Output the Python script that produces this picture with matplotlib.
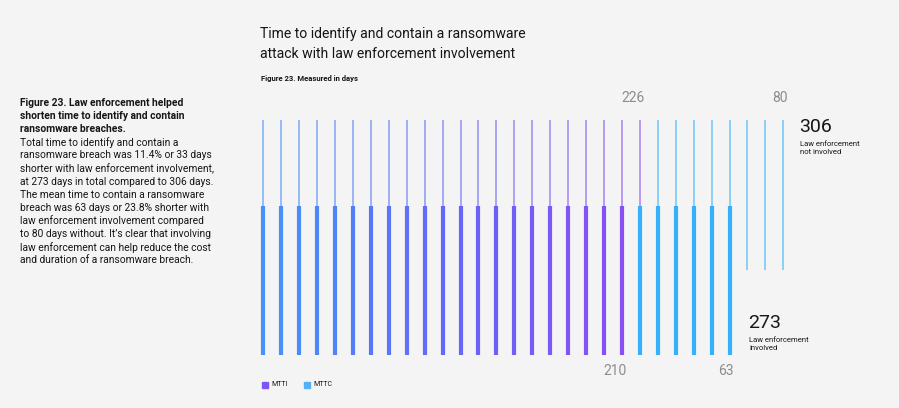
import numpy as np
import matplotlib.pyplot as plt
from matplotlib.colors import LinearSegmentedColormap
from matplotlib.patches import Rectangle

# data (days)
rows = ["Law enforcement\nnot involved", "Law enforcement\ninvolved"]
mtti = [226, 210]
mttc = [80, 63]
totals = [306, 273]
days_per_line = 10

W, H = 899, 408
bg = "#f4f4f4"
mtti_cmap = LinearSegmentedColormap.from_list("mtti", ["#4593f8", "#6468f7", "#8a4ff2"])
mttc_color = "#35b0fa"
grey = "#8d8d8d"
dark = "#161616"

plt.rcParams["font.family"] = ["Roboto", "DejaVu Sans"]

fig = plt.figure(figsize=(W / 100, H / 100), dpi=100, facecolor=bg)


def fx(x):
    return x / W


def fy(y):
    return 1 - y / H


# chart axes: x in line index, y in pixel rows measured upward from y=370
ax = fig.add_axes([fx(254.3), fy(370), fx(538), 270 / H])
ax.set_xlim(-0.5, 29.5)
ax.set_ylim(0, 270)
ax.set_facecolor(bg)
ax.axis("off")

# row geometry (bottom, top, line width in pt, alpha)
row_style = [(100, 250, 1.1, 0.7), (15, 164, 3.0, 1.0)]

for r in range(2):
    bottom, top, lw, alpha = row_style[r]
    n_i = mtti[r] // days_per_line
    n_c = mttc[r] // days_per_line
    xi = np.arange(n_i)
    xc = np.arange(n_i, n_i + n_c)
    cols = [mtti_cmap(i / (n_i - 1)) for i in xi]
    ax.vlines(xi, bottom, top, colors=cols, linewidth=lw, alpha=alpha)
    ax.vlines(xc, bottom, top, colors=mttc_color, linewidth=lw, alpha=alpha)

    ly = 272 if r == 0 else -1
    ax.text(n_i - 1 + 0.25, ly, str(mtti[r]), ha="right", va="center",
            fontsize=10, color=grey, clip_on=False)
    ax.text(n_i + n_c - 1 + 0.25, ly, str(mttc[r]), ha="right", va="center",
            fontsize=10, color=grey, clip_on=False)

# totals
fig.text(fx(799), fy(127), str(totals[0]), fontsize=14, color=dark, va="center")
fig.text(fx(800), fy(141), rows[0], fontsize=5.5, color=dark, va="top", linespacing=1.3)
fig.text(fx(748), fy(323), str(totals[1]), fontsize=14, color=dark, va="center")
fig.text(fx(749), fy(337), rows[1], fontsize=5.5, color=dark, va="top", linespacing=1.3)

# titles
fig.text(fx(260), fy(27), "Time to identify and contain a ransomware\nattack with law enforcement involvement",
         fontsize=10.1, color=dark, va="top", linespacing=1.55)
fig.text(fx(261), fy(78), "Figure 23. Measured in days", fontsize=5.5, fontweight="bold",
         color=dark, va="center")

# legend
fig.patches.append(Rectangle((fx(262), fy(388)), fx(6), 6 / H, transform=fig.transFigure,
                             color=mtti_cmap(0.85)))
fig.text(fx(271), fy(384.5), "MTTI", fontsize=5, color=dark, va="center")
fig.patches.append(Rectangle((fx(304), fy(388)), fx(6), 6 / H, transform=fig.transFigure,
                             color="#56b0f5"))
fig.text(fx(313), fy(384.5), "MTTC", fontsize=5, color=dark, va="center")

# side note
bold_lines = ["Figure 23. Law enforcement helped",
              "shorten time to identify and contain",
              "ransomware breaches."]
body_lines = ["Total time to identify and contain a",
              "ransomware breach was 11.4% or 33 days",
              "shorter with law enforcement involvement,",
              "at 273 days in total compared to 306 days.",
              "The mean time to contain a ransomware",
              "breach was 63 days or 23.8% shorter with",
              "law enforcement involvement compared",
              "to 80 days without. It\u2019s clear that involving",
              "law enforcement can help reduce the cost",
              "and duration of a ransomware breach."]
y0 = 103
step = 13.1
for i, line in enumerate(bold_lines + body_lines):
    fig.text(fx(20), fy(y0 + i * step), line, fontsize=7.4, color=dark, va="center",
             fontweight="bold" if i < 3 else "normal")

fig.savefig("out.png", dpi=100, facecolor=bg)
